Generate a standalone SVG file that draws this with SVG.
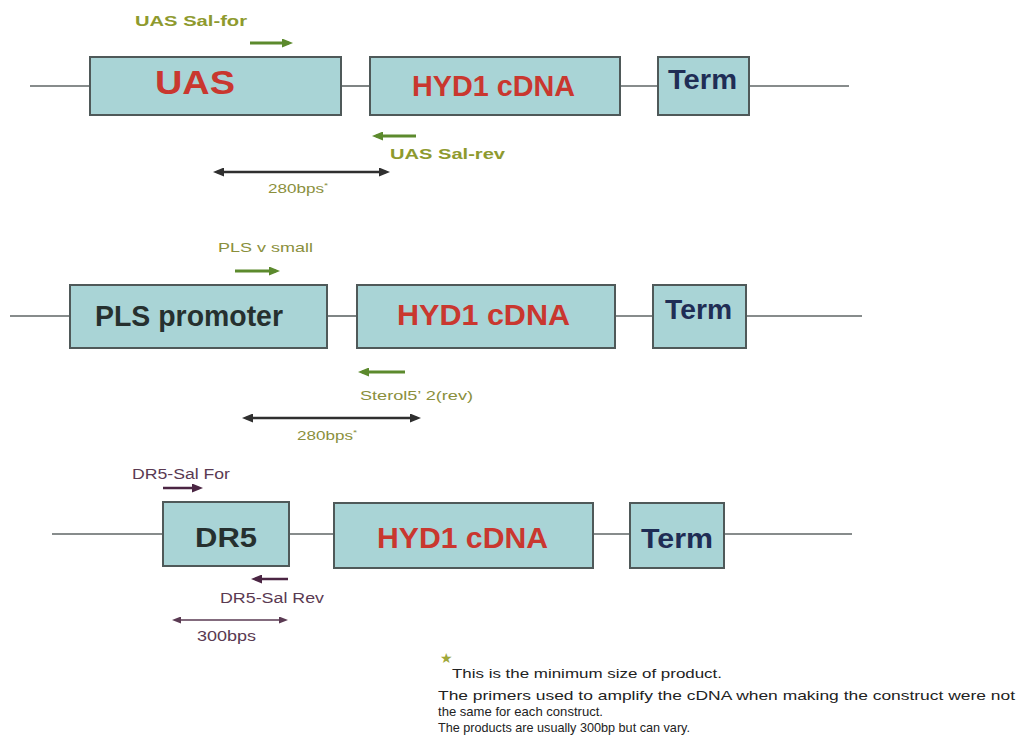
<svg xmlns="http://www.w3.org/2000/svg" width="1025" height="756" viewBox="0 0 1025 756">
<style>
  .bb{stroke:#5f6666;stroke-width:1.6;fill:none}
  .box{fill:#a9d4d6;stroke:#4f5959;stroke-width:2}
  .big{font-family:"Liberation Sans",Arial,sans-serif;font-weight:bold}
  .red{fill:#c9372f}
  .navy{fill:#1f2d55}
  .dark{fill:#26302f}
  .lbl{font-family:"Liberation Sans",Arial,sans-serif}
  .olive{fill:#8e9a2e}
  .olive2{fill:#8a8f3c}
  .purp{fill:#5a3a52}
  .g{stroke:#5c8a2d;stroke-width:3;fill:none}
  .d{stroke:#2f2f2f;stroke-width:2.5;fill:none}
  .p{stroke:#4b2543;stroke-width:2.6;fill:none}
  .pt{stroke:#5a3a52;stroke-width:1.5;fill:none}
  .note{font-family:"Liberation Sans",Arial,sans-serif;font-size:13.5px;fill:#222}
</style>
<defs>
  <marker id="mg" viewBox="0 0 11 9" refX="7" refY="4.5" markerWidth="11" markerHeight="9" markerUnits="userSpaceOnUse" orient="auto-start-reverse"><path d="M0,0 L11,4.5 L0,9 z" fill="#5c8a2d"/></marker>
  <marker id="md" viewBox="0 0 11 9" refX="7" refY="4.5" markerWidth="11" markerHeight="9" markerUnits="userSpaceOnUse" orient="auto-start-reverse"><path d="M0,0 L11,4.5 L0,9 z" fill="#2f2f2f"/></marker>
  <marker id="mp" viewBox="0 0 11 9" refX="7" refY="4.5" markerWidth="11" markerHeight="9" markerUnits="userSpaceOnUse" orient="auto-start-reverse"><path d="M0,0 L11,4.5 L0,9 z" fill="#4b2543"/></marker>
  <marker id="mpt" viewBox="0 0 9 7" refX="5" refY="3.5" markerWidth="9" markerHeight="7" markerUnits="userSpaceOnUse" orient="auto-start-reverse"><path d="M0,0 L9,3.5 L0,7 z" fill="#5a3a52"/></marker>
</defs>
<rect width="1025" height="756" fill="#ffffff"/>

<g id="connectors">
  <line class="bb" x1="30" y1="86" x2="90" y2="86"/>
  <line class="bb" x1="341" y1="86" x2="370" y2="86"/>
  <line class="bb" x1="620" y1="86" x2="658" y2="86"/>
  <line class="bb" x1="749" y1="86" x2="849" y2="86"/>
  <line class="bb" x1="10" y1="316" x2="70" y2="316"/>
  <line class="bb" x1="327" y1="316" x2="357" y2="316"/>
  <line class="bb" x1="615" y1="316" x2="653" y2="316"/>
  <line class="bb" x1="746" y1="316" x2="862" y2="316"/>
  <line class="bb" x1="52" y1="534" x2="163" y2="534"/>
  <line class="bb" x1="289" y1="534" x2="334" y2="534"/>
  <line class="bb" x1="593" y1="534" x2="630" y2="534"/>
  <line class="bb" x1="724" y1="534" x2="852" y2="534"/>
  <line class="g" x1="250" y1="43" x2="289" y2="43" marker-end="url(#mg)"/>
  <line class="g" x1="416" y1="136" x2="376" y2="136" marker-end="url(#mg)"/>
  <line class="d" x1="217" y1="172" x2="386" y2="172" marker-start="url(#md)" marker-end="url(#md)"/>
  <line class="g" x1="235" y1="271" x2="276" y2="271" marker-end="url(#mg)"/>
  <line class="g" x1="405" y1="372" x2="362" y2="372" marker-end="url(#mg)"/>
  <line class="d" x1="246" y1="418" x2="417" y2="418" marker-start="url(#md)" marker-end="url(#md)"/>
  <line class="p" x1="163" y1="488" x2="199" y2="488" marker-end="url(#mp)"/>
  <line class="p" x1="288" y1="579" x2="255" y2="579" marker-end="url(#mp)"/>
  <line class="pt" x1="176" y1="620" x2="284" y2="620" marker-start="url(#mpt)" marker-end="url(#mpt)"/>
</g>

<g id="uas">
  <rect class="box" x="90" y="57" width="251" height="58"/>
  <text class="big red" x="155" y="94" font-size="33" textLength="80" lengthAdjust="spacingAndGlyphs">UAS</text>
</g>
<g id="hyd1-row1">
  <rect class="box" x="370" y="57" width="250" height="58"/>
  <text class="big red" x="412" y="96" font-size="30" textLength="163" lengthAdjust="spacingAndGlyphs">HYD1 cDNA</text>
</g>
<g id="term-row1">
  <rect class="box" x="658" y="57" width="91" height="58"/>
  <text class="big navy" x="668" y="89" font-size="28" textLength="69" lengthAdjust="spacingAndGlyphs">Term</text>
</g>

<g id="pls">
  <rect class="box" x="70" y="285" width="257" height="63"/>
  <text class="big dark" x="95" y="326" font-size="29" textLength="188" lengthAdjust="spacingAndGlyphs">PLS promoter</text>
</g>
<g id="hyd1-row2">
  <rect class="box" x="357" y="285" width="258" height="63"/>
  <text class="big red" x="397" y="325" font-size="30" textLength="173" lengthAdjust="spacingAndGlyphs">HYD1 cDNA</text>
</g>
<g id="term-row2">
  <rect class="box" x="653" y="285" width="93" height="63"/>
  <text class="big navy" x="665" y="319" font-size="28" textLength="67" lengthAdjust="spacingAndGlyphs">Term</text>
</g>

<g id="dr5">
  <rect class="box" x="163" y="502" width="126" height="64"/>
  <text class="big dark" x="195" y="547" font-size="27" textLength="62" lengthAdjust="spacingAndGlyphs">DR5</text>
</g>
<g id="hyd1-row3">
  <rect class="box" x="334" y="503" width="259" height="65"/>
  <text class="big red" x="377" y="548" font-size="30" textLength="171" lengthAdjust="spacingAndGlyphs">HYD1 cDNA</text>
</g>
<g id="term-row3">
  <rect class="box" x="630" y="503" width="94" height="65"/>
  <text class="big navy" x="641" y="548" font-size="28" textLength="72" lengthAdjust="spacingAndGlyphs">Term</text>
</g>

<g id="labels">
  <text class="lbl olive" x="135" y="26" font-size="15" font-weight="bold" textLength="112" lengthAdjust="spacingAndGlyphs">UAS Sal-for</text>
  <text class="lbl olive" x="390" y="159" font-size="15" font-weight="bold" textLength="115" lengthAdjust="spacingAndGlyphs">UAS Sal-rev</text>
  <text class="lbl olive2" x="268" y="193" font-size="13" textLength="60" lengthAdjust="spacingAndGlyphs">280bps<tspan dy="-5" font-size="8">*</tspan></text>
  <text class="lbl olive2" x="218" y="252" font-size="13" textLength="95" lengthAdjust="spacingAndGlyphs">PLS v small</text>
  <text class="lbl olive2" x="360" y="400" font-size="13" textLength="113" lengthAdjust="spacingAndGlyphs">Sterol5’ 2(rev)</text>
  <text class="lbl olive2" x="297" y="440" font-size="13" textLength="60" lengthAdjust="spacingAndGlyphs">280bps<tspan dy="-5" font-size="8">*</tspan></text>
  <text class="lbl purp" x="132" y="479" font-size="14" textLength="98" lengthAdjust="spacingAndGlyphs">DR5-Sal For</text>
  <text class="lbl purp" x="220" y="603" font-size="14" textLength="104" lengthAdjust="spacingAndGlyphs">DR5-Sal Rev</text>
  <text class="lbl purp" x="197" y="641" font-size="14" textLength="59" lengthAdjust="spacingAndGlyphs">300bps</text>
</g>

<g id="footnote">
  <text x="440" y="663" font-family="DejaVu Sans,sans-serif" font-size="14" fill="#a0a83a">★</text>
  <text class="note" x="452" y="678" textLength="270" lengthAdjust="spacingAndGlyphs">This is the minimum size of product.</text>
  <text class="note" x="438" y="700" textLength="577" lengthAdjust="spacingAndGlyphs">The primers used to amplify the cDNA when making the construct were not</text>
  <text class="note" x="438" y="716" textLength="165" lengthAdjust="spacingAndGlyphs">the same for each construct.</text>
  <text class="note" x="438" y="732" textLength="252" lengthAdjust="spacingAndGlyphs">The products are usually 300bp but can vary.</text>
</g>
</svg>
